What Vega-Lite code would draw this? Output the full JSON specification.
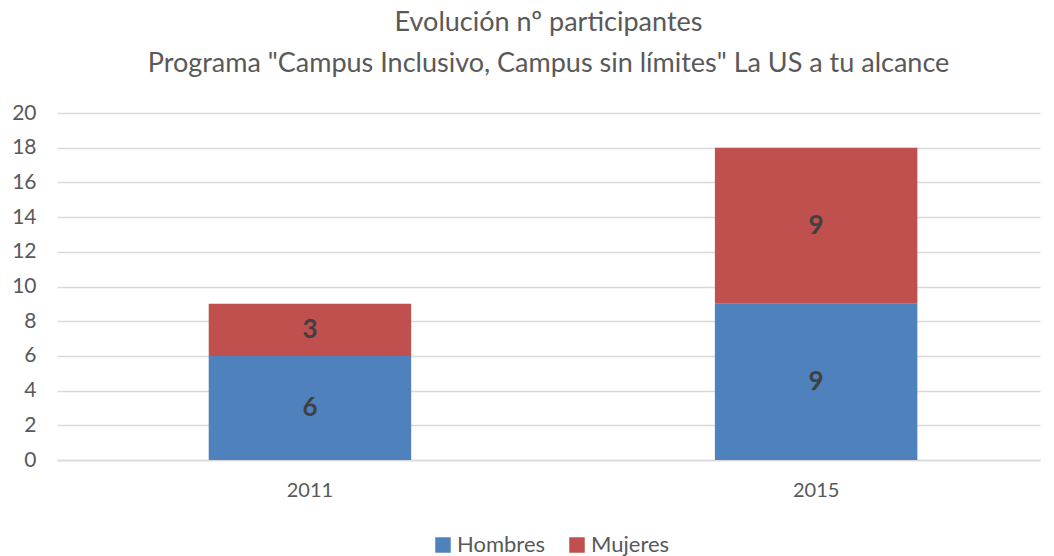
{
  "$schema": "https://vega.github.io/schema/vega-lite/v6.json",
  "autosize": {"type": "none"},
  "width": 983,
  "height": 347,
  "padding": {"left": 57, "top": 113, "right": 14, "bottom": 96},
  "background": "white",
  "config": {"font": "Lato", "view": {"stroke": null}},
  "title": {
    "text": ["Evolución nº participantes", "Programa \"Campus Inclusivo, Campus sin límites\" La US a tu alcance"],
    "fontSize": 27,
    "fontWeight": "normal",
    "color": "#595959",
    "lineHeight": 41,
    "offset": 24,
    "anchor": "middle"
  },
  "data": {
    "values": [
      {"year": "2011", "serie": "Hombres", "v": 6},
      {"year": "2011", "serie": "Mujeres", "v": 3},
      {"year": "2015", "serie": "Hombres", "v": 9},
      {"year": "2015", "serie": "Mujeres", "v": 9}
    ]
  },
  "transform": [
    {"stack": "v", "groupby": ["year"], "sort": [{"field": "serie", "order": "ascending"}], "as": ["v0", "v1"]},
    {"calculate": "(datum.v0 + datum.v1) / 2", "as": "mid"}
  ],
  "resolve": {"axis": {"y": "independent"}},
  "encoding": {
    "x": {
      "field": "year", "type": "nominal", "title": null,
      "scale": {"paddingInner": 0.6, "paddingOuter": 0.271, "align": 0.553},
      "axis": {"labelAngle": 0, "labelFontSize": 20, "labelColor": "#595959", "ticks": false, "domainColor": "#d9d9d9", "domainWidth": 1.5, "labelPadding": 20}
    }
  },
  "layer": [
    {
      "mark": {"type": "bar"},
      "encoding": {
        "y": {"field": "v0", "type": "quantitative", "title": null,
          "scale": {"domain": [0, 20], "nice": false},
          "axis": {"values": [0,2,4,6,8,10,12,14,16,18,20], "labelOverlap": false, "labelFontSize": 21, "labelColor": "#595959", "ticks": false, "domain": false, "gridColor": "#d9d9d9", "gridWidth": 1.5, "labelPadding": 21}},
        "y2": {"field": "v1"},
        "color": {"field": "serie", "type": "nominal", "title": null,
          "scale": {"domain": ["Hombres", "Mujeres"], "range": ["#4F81BD", "#C0504D"]},
          "legend": {"orient": "none", "legendX": 375, "legendY": 421, "direction": "horizontal", "symbolType": "square", "symbolSize": 240, "symbolStrokeWidth": 0, "labelFontSize": 22, "labelColor": "#595959", "columnPadding": 20, "labelOffset": 3}}
      }
    },
    {
      "mark": {"type": "text", "fontSize": 26, "fontWeight": "bold", "color": "#404040"},
      "encoding": {
        "y": {"field": "mid", "type": "quantitative", "axis": null},
        "text": {"field": "v", "type": "quantitative"}
      }
    }
  ]
}
